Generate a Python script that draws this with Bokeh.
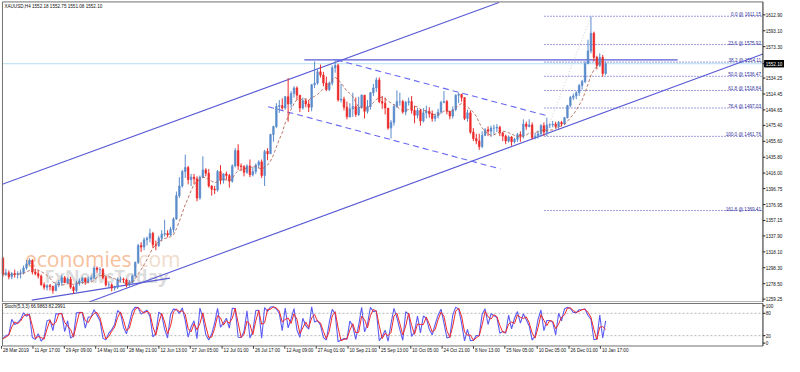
import pandas as pd
from bokeh.plotting import figure
from bokeh.models import ColumnDataSource, Range1d
from bokeh.layouts import column
from bokeh.embed import file_html
from bokeh.resources import INLINE
from bokeh.core.properties import value

# ---------------- data (one candle per trading day, 28 Mar 2019 -> 14 Jan 2020) -------------
open_first = 1310
closes = [1290, 1292,
          1287, 1291, 1290, 1291, 1292,
          1298, 1303, 1307, 1293, 1291,
          1288, 1277, 1274, 1276,
          1275, 1270, 1277, 1280, 1286,
          1280, 1284, 1274, 1270, 1279,
          1282, 1285, 1281, 1284, 1286,
          1298, 1296, 1296, 1286, 1277,
          1277, 1273, 1274, 1284, 1284,
          1283, 1277, 1280, 1288, 1305,
          1326, 1324, 1333, 1335, 1341,
          1327, 1326, 1335, 1340, 1341,
          1339, 1346, 1359, 1388, 1400,
          1418, 1423, 1408, 1411, 1409,
          1385, 1411, 1420, 1416, 1400,
          1396, 1395, 1418, 1407, 1415,
          1413, 1406, 1425, 1444, 1425,
          1424, 1417, 1425, 1414, 1418,
          1426, 1430, 1413, 1443, 1440,
          1464, 1474, 1499, 1500, 1497,
          1511, 1502, 1515, 1522, 1513,
          1497, 1506, 1502, 1498, 1526,
          1528, 1542, 1538, 1528, 1520,
          1528, 1547, 1550, 1507, 1508,
          1498, 1486, 1496, 1499, 1489,
          1498, 1513, 1493, 1499, 1516,
          1522, 1532, 1505, 1503, 1497,
          1472, 1479, 1499, 1505, 1505,
          1492, 1504, 1505, 1494, 1488,
          1494, 1481, 1491, 1493, 1490,
          1484, 1487, 1492, 1504, 1505,
          1493, 1487, 1495, 1513, 1514,
          1510, 1484, 1491, 1467, 1459,
          1456, 1449, 1463, 1470, 1468,
          1472, 1472, 1473, 1466, 1462,
          1456, 1461, 1455, 1458, 1464,
          1462, 1477, 1474, 1476, 1460,
          1462, 1465, 1475, 1467, 1476,
          1476, 1477, 1474, 1479, 1477,
          1485, 1500, 1510, 1512, 1516,
          1525, 1530, 1552, 1568, 1590,
          1560, 1550, 1560, 1540, 1552.1]
highs = [1312, 1297,
         1295, 1293, 1296, 1294, 1296,
         1301, 1308, 1310, 1309, 1297,
         1295, 1290, 1280, 1278,
         1278, 1276, 1280, 1283, 1289,
         1288, 1286, 1287, 1276, 1282,
         1285, 1287, 1286, 1287, 1289,
         1300, 1300, 1299, 1298, 1288,
         1280, 1279, 1276, 1286, 1287,
         1286, 1285, 1283, 1290, 1306,
         1328, 1330, 1336, 1337, 1347,
         1343, 1332, 1338, 1345, 1358,
         1345, 1349, 1361, 1393, 1411,
         1420, 1439, 1425, 1415, 1415,
         1412, 1413, 1437, 1422, 1421,
         1401, 1400, 1420, 1426, 1416,
         1418, 1415, 1427, 1447, 1452,
         1428, 1426, 1427, 1433, 1424,
         1428, 1432, 1433, 1445, 1447,
         1465, 1475, 1503, 1507, 1509,
         1512, 1534, 1518, 1524, 1524,
         1513, 1510, 1508, 1507, 1527,
         1555, 1545, 1551, 1542, 1536,
         1530, 1550, 1557, 1552, 1527,
         1511, 1505, 1503, 1516, 1510,
         1511, 1514, 1513, 1507, 1517,
         1527, 1535, 1535, 1512, 1510,
         1497, 1482, 1502, 1519, 1516,
         1507, 1506, 1510, 1512, 1500,
         1497, 1496, 1497, 1500, 1498,
         1494, 1490, 1496, 1506, 1518,
         1507, 1493, 1499, 1514, 1516,
         1514, 1510, 1495, 1494, 1472,
         1465, 1465, 1468, 1472, 1474,
         1475, 1476, 1477, 1475, 1467,
         1464, 1463, 1462, 1460, 1466,
         1468, 1483, 1480, 1483, 1479,
         1466, 1469, 1477, 1479, 1485,
         1478, 1481, 1480, 1481, 1481,
         1486, 1501, 1512, 1515, 1518,
         1527, 1532, 1555, 1582, 1611,
         1592, 1562, 1565, 1563, 1555]
lows = [1287, 1288,
        1284, 1284, 1286, 1285, 1285,
        1290, 1296, 1301, 1290, 1289,
        1285, 1276, 1271, 1270,
        1270, 1266, 1269, 1274, 1276,
        1279, 1278, 1272, 1266, 1268,
        1276, 1278, 1277, 1279, 1281,
        1284, 1292, 1290, 1284, 1275,
        1273, 1269, 1270, 1272, 1280,
        1280, 1274, 1275, 1278, 1287,
        1303, 1318, 1320, 1326, 1330,
        1323, 1320, 1324, 1331, 1337,
        1336, 1338, 1342, 1358, 1385,
        1398, 1410, 1402, 1400, 1402,
        1381, 1383, 1410, 1412, 1398,
        1388, 1390, 1393, 1402, 1403,
        1408, 1398, 1404, 1423, 1420,
        1419, 1412, 1415, 1411, 1412,
        1415, 1422, 1410, 1400, 1432,
        1440, 1455, 1472, 1491, 1495,
        1495, 1480, 1497, 1510, 1507,
        1492, 1495, 1498, 1492, 1493,
        1522, 1526, 1535, 1524, 1518,
        1518, 1525, 1541, 1505, 1504,
        1494, 1483, 1485, 1486, 1486,
        1487, 1496, 1484, 1490, 1495,
        1512, 1517, 1503, 1496, 1489,
        1470, 1459, 1475, 1497, 1500,
        1490, 1488, 1500, 1490, 1478,
        1484, 1475, 1479, 1484, 1485,
        1480, 1480, 1484, 1490, 1503,
        1489, 1483, 1484, 1493, 1503,
        1505, 1482, 1480, 1465, 1456,
        1452, 1445, 1447, 1462, 1462,
        1461, 1464, 1467, 1462, 1456,
        1452, 1454, 1450, 1453, 1455,
        1455, 1459, 1470, 1473, 1458,
        1458, 1459, 1461, 1462, 1462,
        1472, 1473, 1472, 1471, 1474,
        1476, 1484, 1498, 1507, 1508,
        1512, 1520, 1528, 1552, 1565,
        1555, 1545, 1548, 1536, 1538]

title_text = "XAUUSD,H4  1552.18 1552.75 1551.08 1552.10"
bid_price = 1552.10
price_ticks = [1259.25, 1278.50, 1298.30, 1318.10, 1337.90, 1357.15, 1376.95, 1396.75,
               1416.00, 1435.80, 1455.60, 1475.40, 1494.65, 1514.45, 1534.25, 1552.10,
               1573.30, 1593.10, 1612.90]

fib_pcts = ["0.0", "23.6", "38.2", "50.0", "61.8", "76.4", "100.0", "161.8"]
fib_prices = [1611.15, 1575.92, 1554.11, 1536.47, 1518.84, 1497.03, 1461.76, 1369.41]
fib_start_bar = 184.2

date_labels = ["28 Mar 2019", "11 Apr 17:00", "29 Apr 09:00", "14 May 01:00", "28 May 21:00",
               "12 Jun 13:00", "27 Jun 05:00", "12 Jul 01:00", "26 Jul 17:00", "12 Aug 09:00",
               "27 Aug 01:00", "10 Sep 21:00", "25 Sep 13:00", "10 Oct 05:00", "24 Oct 21:00",
               "8 Nov 13:00", "25 Nov 05:00", "10 Dec 05:00", "26 Dec 01:00", "10 Jan 17:00"]
date_day = [0, 10, 21, 32, 42, 53, 64, 75, 85, 96, 107, 117, 128, 139, 149, 160, 171, 182, 193, 203]
date_hour = [0, 17, 9, 1, 21, 13, 5, 1, 17, 9, 1, 21, 13, 5, 21, 13, 5, 5, 1, 17]

# drawn objects: (bar, price) anchors
channel_upper = ([-0.2, 168.7], [1402.1, 1628.4])
channel_lower = ([29.3, 258.5], [1255.7, 1564.1])
support_short = ([9.8, 56.8], [1258.0, 1285.4])
down_upper = ([113.5, 185.8], [1556.9, 1486.7])
down_lower = ([90.2, 169.2], [1498.6, 1421.2])
resist_h = ([102.5, 229.5], [1556.9, 1556.9])
fib_trend = ([184.2, 200.0], [1461.76, 1611.15])

stoch_title = "Stoch(5,3,3) 66.9863 82.2991"
stoch_ticks = [0, 20, 80, 100]
stoch_levels = [20, 80]

# ---------------- layout helpers (reference-pixel -> data space) ----------------
def rx(xr):          # horizontal reference pixel -> bar index
    return (xr - 2.5) / 3.0

def ry(yr):          # vertical reference pixel (price panel) -> price
    return 1630.76 - 1.1908 * yr

def sv(yr):          # vertical reference pixel (oscillator panel) -> oscillator value
    return (358.0 - yr) / 0.39

FONT = "Liberation Sans"
FS = "4.6px"
BULL = "#5a8ccc"
BEAR = "#ec2a2a"
FRAME = "#707070"
XL, XA, XR = rx(2), rx(778), rx(800)     # left border, price-axis line, right edge
n = len(closes)
bars = list(range(n))

# ---------------- main price panel ----------------
p = figure(width=784, height=302, x_range=Range1d(rx(0), XR), y_range=Range1d(ry(315.5), ry(0)),
           output_backend="svg", toolbar_location=None, x_axis_location=None,
           y_axis_location=None, min_border=0)
p.grid.visible = False
p.outline_line_color = None
p.background_fill_color = "white"
p.border_fill_color = "white"

# watermark
p.text(x=[rx(25)], y=[ry(270)], text=["economies"], text_font=value("Open Sans"),
       text_font_size="21px", text_color="#f6c19c", text_baseline="alphabetic")
p.text(x=[rx(135)], y=[ry(270)], text=[".com"], text_font=value("Open Sans"),
       text_font_size="21px", text_color="#f1dccd", text_baseline="alphabetic")
p.text(x=[rx(45)], y=[ry(288)], text=["FxNewsToday"], text_font=value("Open Sans"),
       text_font_size="18px", text_font_style="bold", text_color="#dcdcdc",
       text_baseline="alphabetic")

# bid line
p.line([XL, XA], [bid_price, bid_price], line_color="#b5e0f0", line_width=1)

# fibonacci
for lv in fib_prices:
    p.line([fib_start_bar, XA], [lv, lv], line_color="#3c3cc0", line_dash="1 2", line_width=1)
fib_src = ColumnDataSource(dict(x=[rx(776)] * len(fib_prices), y=fib_prices,
                                t=[f"{a} @ {b:.2f}" for a, b in zip(fib_pcts, fib_prices)]))
p.text(x="x", y="y", text="t", source=fib_src, text_align="right", text_baseline="bottom",
       text_font=value(FONT), text_font_size=FS, text_color="#33339a", y_offset=1)
p.line(fib_trend[0], fib_trend[1], line_color="#cfcfcf", line_dash="1 2", line_width=1)

# trend lines
for xs, ys in (channel_upper, channel_lower, support_short, resist_h):
    p.line(xs, ys, line_color="#5a5ad6", line_width=1.1)
for xs, ys in (down_upper, down_lower):
    p.line(xs, ys, line_color="#6868f2", line_width=1.1, line_dash="6 4")

# candles
opens = [open_first] + closes[:-1]
colors = [BULL if c >= o else BEAR for o, c in zip(opens, closes)]
csrc = ColumnDataSource(dict(x=bars, h=highs, l=lows,
                             top=[max(o, c) for o, c in zip(opens, closes)],
                             bot=[min(o, c) for o, c in zip(opens, closes)], col=colors))
p.segment(x0="x", y0="h", x1="x", y1="l", line_color="col", line_width=1, source=csrc)
p.vbar(x="x", width=0.55, top="top", bottom="bot", fill_color="col", line_color="col",
       line_width=0.6, source=csrc)

# moving average
ma = pd.Series(closes).rolling(8, min_periods=1).mean()
p.line(bars, list(ma), line_color="#b0604e", line_dash="3 2", line_width=1, alpha=0.85)

# frame of the price panel
p.line([XL, XA], [ry(1.5), ry(1.5)], line_color=FRAME, line_width=1)
p.line([XL, XA], [ry(315), ry(315)], line_color=FRAME, line_width=1)
p.line([XL, XL], [ry(1.5), ry(315)], line_color=FRAME, line_width=1)
p.line([XA, XA], [ry(1.5), ry(315)], line_color="#222222", line_width=1)

# price scale (ticks, labels, bid marker)
p.segment(x0=[XA] * len(price_ticks), y0=price_ticks, x1=[rx(780.5)] * len(price_ticks),
          y1=price_ticks, line_color="#222222", line_width=1)
p.quad(left=[rx(779.5)], right=[XR], bottom=[bid_price - 4.0], top=[bid_price + 4.0],
       fill_color="black", line_color="black")
tick_src = ColumnDataSource(dict(x=[rx(780.8)] * len(price_ticks), y=price_ticks,
                                 t=[f"{t:.2f}" for t in price_ticks],
                                 c=["white" if t == bid_price else "#111111" for t in price_ticks]))
p.text(x="x", y="y", text="t", source=tick_src, text_align="left", text_baseline="middle",
       text_font=value(FONT), text_font_size=FS, text_color="c")

# title
p.text(x=[rx(4)], y=[ry(6.5)], text=[title_text], text_align="left", text_baseline="middle",
       text_font=value(FONT), text_font_size=FS, text_color="#111111")

# ---------------- stochastic panel ----------------
s = figure(width=784, height=54, x_range=p.x_range, y_range=Range1d(sv(372), sv(315.5)),
           output_backend="svg", toolbar_location=None, x_axis_location=None,
           y_axis_location=None, min_border=0)
s.grid.visible = False
s.outline_line_color = None
s.background_fill_color = "white"
s.border_fill_color = "white"

for lv in stoch_levels:
    s.line([XL, XA], [lv, lv], line_color="#b8b8b8", line_dash="2 2", line_width=1)

sc, sh, sl = pd.Series(closes), pd.Series(highs), pd.Series(lows)
hh = sh.rolling(2, min_periods=1).max()
ll = sl.rolling(2, min_periods=1).min()
k = 100 * (sc - ll) / (hh - ll)
d = k.rolling(2, min_periods=1).mean()
s.line(bars, list(k), line_color="#5c5cf0", line_width=1.1)
s.line(bars, list(d), line_color="#f02a2a", line_width=1.0)

# frame of the oscillator panel
s.line([XL, XA], [sv(316.5), sv(316.5)], line_color=FRAME, line_width=1)
s.line([XL, XA], [sv(361), sv(361)], line_color=FRAME, line_width=1)
s.line([XL, XL], [sv(316.5), sv(361)], line_color=FRAME, line_width=1)
s.line([XA, XA], [sv(316.5), sv(361)], line_color="#222222", line_width=1)

s.segment(x0=[XA] * 4, y0=stoch_ticks, x1=[rx(780.5)] * 4, y1=stoch_ticks,
          line_color="#222222", line_width=1)
s.text(x=[rx(780.8)] * 4, y=stoch_ticks, text=[str(t) for t in stoch_ticks],
       text_align="left", text_baseline="middle", text_font=value(FONT),
       text_font_size=FS, text_color="#111111")

# time scale
tick_pos = [dd + h / 24.0 - 0.5 for dd, h in zip(date_day, date_hour)]
s.segment(x0=tick_pos, y0=[sv(361)] * len(tick_pos), x1=tick_pos, y1=[sv(364)] * len(tick_pos),
          line_color="#444444", line_width=1)
s.text(x=tick_pos, y=[sv(365.5)] * len(tick_pos), text=date_labels, x_offset=1.5,
       text_align="left", text_baseline="middle", text_font=value(FONT),
       text_font_size=FS, text_color="#111111")

s.text(x=[rx(4)], y=[sv(320)], text=[stoch_title], text_align="left", text_baseline="middle",
       text_font=value(FONT), text_font_size=FS, text_color="#111111")

layout = column(p, s, spacing=0)
open("out.html", "w").write(file_html(layout, INLINE))
